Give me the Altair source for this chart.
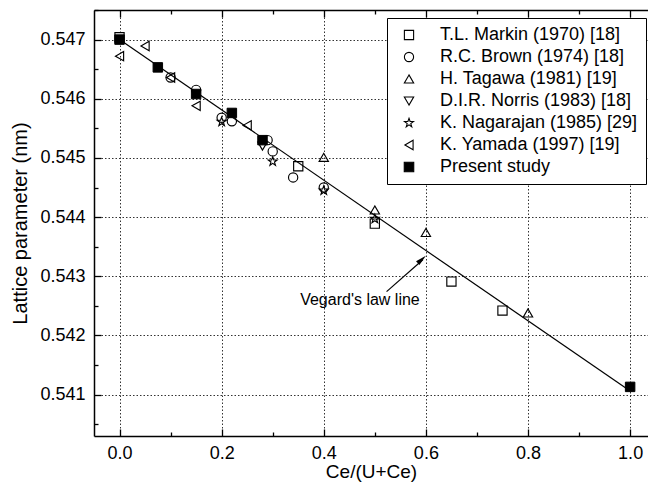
import altair as alt
import pandas as pd

# Ce/(U+Ce) composition and lattice parameter (nm) for each source
series = [
    "T.L. Markin (1970) [18]",
    "R.C. Brown (1974) [18]",
    "H. Tagawa (1981) [19]",
    "D.I.R. Norris (1983) [18]",
    "K. Nagarajan (1985) [29]",
    "K. Yamada (1997) [19]",
    "Present study",
]

markin_x = [0.0, 0.35, 0.5, 0.65, 0.75]
markin_y = [0.54704, 0.54486, 0.54389, 0.54291, 0.54242]

brown_x = [0.1, 0.15, 0.2, 0.22, 0.29, 0.3, 0.34, 0.4]
brown_y = [0.54636, 0.54615, 0.54568, 0.54562, 0.54530, 0.54511, 0.54467, 0.54450]

tagawa_x = [0.4, 0.5, 0.6, 0.8]
tagawa_y = [0.54501, 0.54412, 0.54374, 0.54238]

norris_x = [0.28]
norris_y = [0.54520]

nagarajan_x = [0.2, 0.3, 0.4, 0.5]
nagarajan_y = [0.54561, 0.54494, 0.54445, 0.54397]

yamada_x = [0.0, 0.05, 0.1, 0.15, 0.25]
yamada_y = [0.54672, 0.54689, 0.54636, 0.54588, 0.54555]

present_x = [0.0, 0.075, 0.15, 0.22, 0.28, 1.0]
present_y = [0.54700, 0.54653, 0.54608, 0.54576, 0.54530, 0.54113]

# Vegard's law between the UO2 and CeO2 end members
vegard_x = [0.0, 1.0]
vegard_y = [0.54700, 0.54106]

# annotation: label position, arrow tail and arrow tip
note_text = ["Vegard's law line"]
note_x = [0.588]
note_y = [0.54260]
arrow_x = [0.523, 0.594]
arrow_y = [0.54274, 0.54328]
tip_x = [0.600]
tip_y = [0.543345]

x_major = [0.0, 0.2, 0.4, 0.6, 0.8, 1.0]
x_minor = [0.1, 0.3, 0.5, 0.7, 0.9]
y_major = [0.541, 0.542, 0.543, 0.544, 0.545, 0.546, 0.547]
y_minor = [0.5405, 0.5415, 0.5425, 0.5435, 0.5445, 0.5455, 0.5465, 0.5475]

STAR = ("M0,-1L0.235,-0.324L0.951,-0.309L0.380,0.124L0.588,0.809L0,0.4"
        "L-0.588,0.809L-0.380,0.124L-0.951,-0.309L-0.235,-0.324Z")
ARROW_HEAD = "M0,0L0.5,2.2L-0.5,2.2Z"

shapes = ["square", "circle", "triangle-up", "triangle-down", STAR, "triangle-left", "square"]
fills = ["transparent"] * 6 + ["black"]
strokes = ["black"] * 7
sizes = [85, 90, 120, 120, 120, 120, 160]

xs = [markin_x, brown_x, tagawa_x, norris_x, nagarajan_x, yamada_x, present_x]
ys = [markin_y, brown_y, tagawa_y, norris_y, nagarajan_y, yamada_y, present_y]
rows = []
for name, sx, sy in zip(series, xs, ys):
    for a, b in zip(sx, sy):
        rows.append({"x": a, "y": b, "source": name})
points = pd.DataFrame(rows)
open_pts = points[points["source"] != "Present study"]
own_pts = points[points["source"] == "Present study"]

FONT = "Liberation Sans"
xscale = alt.Scale(domain=[-0.05, 1.035], nice=False, zero=False)
yscale = alt.Scale(domain=[0.5403, 0.5475], nice=False, zero=False)

legend = alt.Legend(title=None, orient="none", legendX=293, legendY=8,
                    labelFont=FONT, labelFontSize=18, labelColor="black",
                    labelLimit=320, labelOffset=22, symbolOffset=5,
                    symbolStrokeWidth=1.1, symbolOpacity=1,
                    rowPadding=4, padding=8, strokeColor="black", fillColor="white")
shape_enc = alt.Shape("source:N", scale=alt.Scale(domain=series, range=shapes), legend=legend)
fill_enc = alt.Fill("source:N", scale=alt.Scale(domain=series, range=fills), legend=legend)
stroke_enc = alt.Stroke("source:N", scale=alt.Scale(domain=series, range=strokes), legend=legend)
size_enc = alt.Size("source:N", scale=alt.Scale(domain=series, range=sizes), legend=legend)


def tick_axis(orient, values, length):
    return alt.Axis(orient=orient, values=values, offset=-length, tickSize=length,
                    tickWidth=1.3, tickColor="black", labels=False, domain=False,
                    grid=False, title=None)


grid_style = dict(grid=True, gridColor="#333333", gridDash=[1.5, 2], gridWidth=1)

# Vegard's line carries the labelled axes and the dotted grid
line = alt.Chart(pd.DataFrame({"x": vegard_x, "y": vegard_y})).mark_line(
    color="black", strokeWidth=1.2
).encode(
    x=alt.X("x:Q", scale=xscale, axis=alt.Axis(
        orient="bottom", values=x_major, format=".1f", ticks=False, domainColor="black",
        domainWidth=1.5, labelFont=FONT, labelFontSize=18, labelColor="black",
        labelPadding=8, labelFlush=False, title="Ce/(U+Ce)", titleFont=FONT,
        titleFontSize=19, titleFontWeight="normal", titleColor="black", titlePadding=0,
        **grid_style)),
    y=alt.Y("y:Q", scale=yscale, axis=alt.Axis(
        orient="left", values=y_major, format=".3f", ticks=False, domainColor="black",
        domainWidth=1.5, labelFont=FONT, labelFontSize=18, labelColor="black",
        labelPadding=9, labelFlush=False, title="Lattice parameter (nm)", titleFont=FONT,
        titleFontSize=20, titleFontWeight="normal", titleColor="black", titlePadding=9,
        **grid_style)),
)

open_layer = alt.Chart(open_pts).mark_point(strokeWidth=1.15, opacity=1).encode(
    x=alt.X("x:Q", scale=xscale, axis=tick_axis("bottom", x_major, 7)),
    y=alt.Y("y:Q", scale=yscale, axis=tick_axis("left", y_major, 7)),
    shape=shape_enc, fill=fill_enc, stroke=stroke_enc, size=size_enc,
)

own_layer = alt.Chart(own_pts).mark_point(strokeWidth=1, opacity=1).encode(
    x=alt.X("x:Q", scale=xscale, axis=tick_axis("bottom", x_minor, 4)),
    y=alt.Y("y:Q", scale=yscale, axis=tick_axis("left", y_minor, 4)),
    shape=shape_enc, fill=fill_enc, stroke=stroke_enc, size=size_enc,
)

label = alt.Chart(pd.DataFrame({"x": note_x, "y": note_y, "t": note_text})).mark_text(
    align="right", baseline="middle", font=FONT, fontSize=16, color="black"
).encode(
    x=alt.X("x:Q", scale=xscale, axis=alt.Axis(
        orient="top", labels=False, ticks=False, grid=False, domainColor="black",
        domainWidth=1.5, title=None)),
    y=alt.Y("y:Q", scale=yscale, axis=None),
    text="t:N",
)

arrow = alt.Chart(pd.DataFrame({"x": arrow_x, "y": arrow_y})).mark_line(
    color="black", strokeWidth=1.2
).encode(
    x=alt.X("x:Q", scale=xscale, axis=tick_axis("top", x_major, 7)),
    y=alt.Y("y:Q", scale=yscale, axis=None),
)

head = alt.Chart(pd.DataFrame({"x": tip_x, "y": tip_y})).mark_point(
    shape=ARROW_HEAD, filled=True, color="black", opacity=1, size=100, angle=48,
    strokeWidth=0
).encode(
    x=alt.X("x:Q", scale=xscale, axis=tick_axis("top", x_minor, 4)),
    y=alt.Y("y:Q", scale=yscale, axis=None),
)

chart = alt.layer(line, open_layer, own_layer, label, arrow, head).resolve_axis(
    x="independent", y="independent"
).properties(
    width=554, height=426,
    padding={"left": 94, "top": 10, "right": 0, "bottom": 47},
    autosize=alt.AutoSizeParams(type="none"),
    background="white",
).configure_view(stroke=None)

chart.save("out.html", embed_options={"renderer": "svg", "actions": False})
